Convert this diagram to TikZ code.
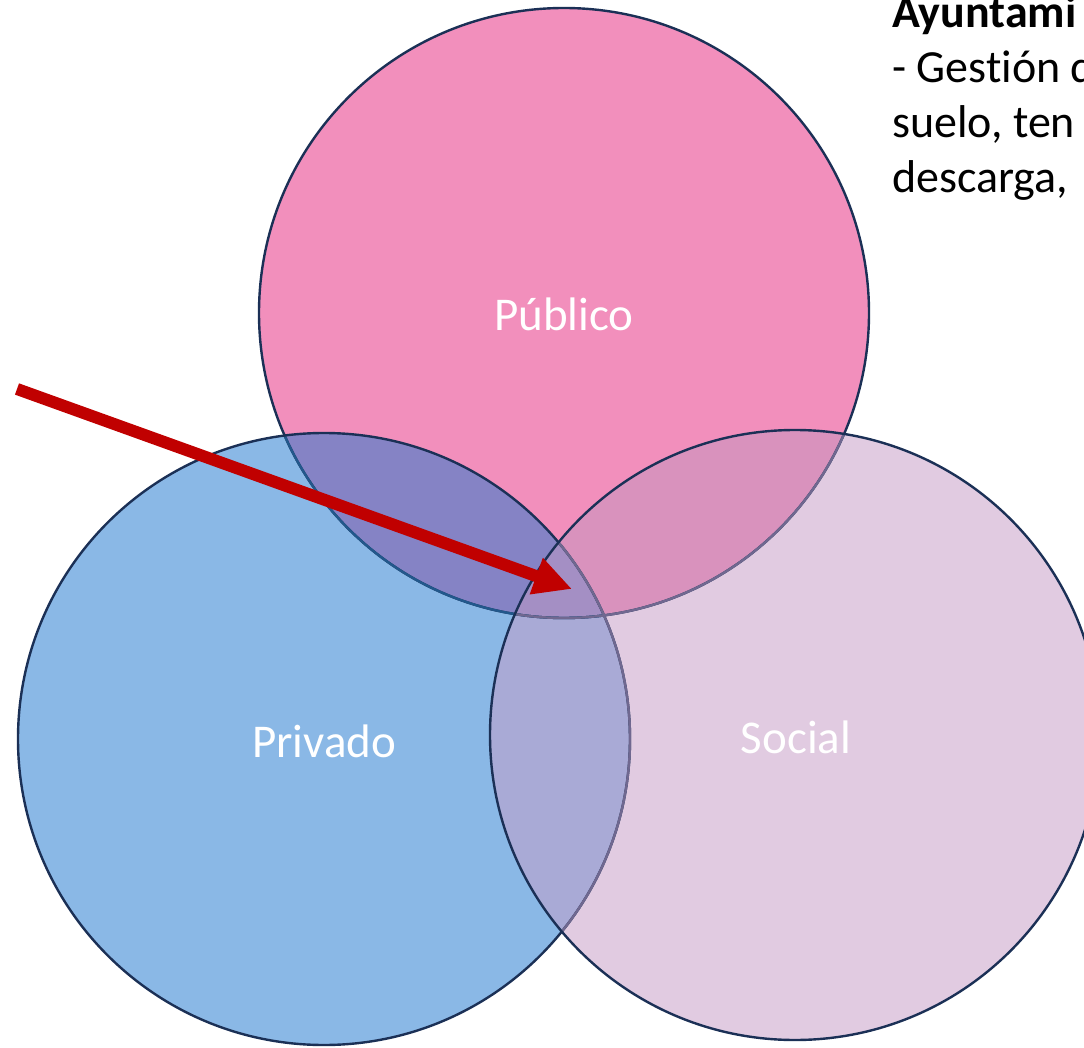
\documentclass[tikz,border=0pt]{standalone}
\usepackage{fontspec}
\setmainfont{Carlito}[Ligatures=NoCommon]
\usetikzlibrary{arrows.meta}
\definecolor{pubc}{RGB}{242,143,188}
\definecolor{privc}{RGB}{138,184,230}
\definecolor{socc}{RGB}{225,203,225}
\definecolor{pubpriv}{RGB}{133,131,197}
\definecolor{pubsoc}{RGB}{217,146,189}
\definecolor{privsoc}{RGB}{169,170,214}
\definecolor{allc}{RGB}{164,143,196}
\definecolor{edge}{RGB}{27,48,86}
\definecolor{edgeblue}{RGB}{34,88,140}
\definecolor{edgegray}{RGB}{112,104,144}
\definecolor{arrowred}{RGB}{192,0,0}
\tikzset{
  ring/.style={draw=edge, line width=2.4pt},
  lbl/.style={text=white, font=\fontsize{47}{54}\selectfont, inner sep=0pt},
  side/.style={anchor=base west, inner sep=0pt, font=\fontsize{46}{55}\selectfont, text=black},
}
\begin{document}
\begin{tikzpicture}[x=1pt,y=-1pt]
\useasboundingbox (0,0) rectangle (1084,1048);
\clip (0,0) rectangle (1084,1048);
\fill[white] (0,0) rectangle (1084,1048);
\coordinate (P) at (564,313);
\coordinate (V) at (324,739);
\coordinate (S) at (795,735);
% base fills
\fill[pubc] (P) circle (305);
\fill[privc] (V) circle (306);
\fill[socc] (S) circle (305);
% pairwise overlaps
\begin{scope}\clip (P) circle (305); \fill[pubpriv] (V) circle (306); \fill[pubsoc] (S) circle (305);\end{scope}
\begin{scope}\clip (V) circle (306); \fill[privsoc] (S) circle (305);\end{scope}
\begin{scope}\clip (P) circle (305); \clip (V) circle (306); \fill[allc] (S) circle (305);\end{scope}
% outlines
\draw[ring] (P) circle (305);
\begin{scope}\clip (V) circle (306); \draw[draw=edgeblue, line width=2.4pt] (P) circle (305);\end{scope}
\draw[ring] (V) circle (306);
\begin{scope}\clip (S) circle (305);
  \draw[draw=edgegray, line width=2.4pt] (P) circle (305);
  \draw[draw=edgegray, line width=2.4pt] (V) circle (306);
\end{scope}
\draw[ring] (S) circle (305);
% labels
\node[lbl] (pub) at (564,314) {Público};
\node[lbl] (priv) at (324,741) {Privado};
\node[lbl] (soc) at (796,737) {Social};
% arrow
\coordinate (a0) at (17,389);
\coordinate (a1) at (572,589);
\draw[arrowred, line width=12pt, -{Triangle[length=38pt,width=36pt]}] (a0) -- (a1);
% side text (cut off at the right edge, as in the reference)
\node[side, font=\fontsize{46}{55}\selectfont\bfseries] (t1) at (892,28) {Ayuntami};
\node[side] (t2) at (892,83) {- Gestión d};
\node[side] (t3) at (892,138) {suelo, ten};
\node[side] (t4) at (892,193) {descarga,};
\end{tikzpicture}
\end{document}
